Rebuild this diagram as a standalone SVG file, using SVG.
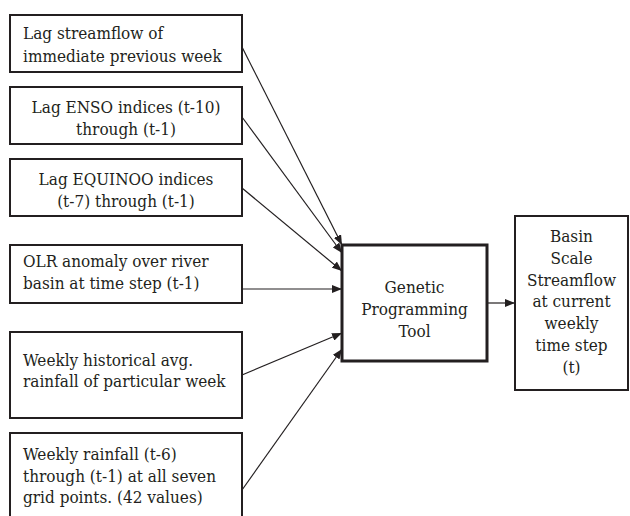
<svg xmlns="http://www.w3.org/2000/svg" width="630" height="516" viewBox="0 0 630 516">
  <style>
    .box { fill: #ffffff; stroke: #231f20; stroke-width: 2; }
    .core { fill: #ffffff; stroke: #231f20; stroke-width: 3; }
    .lbl { font-family: 'DejaVu Serif Condensed', 'DejaVu Serif', serif; font-stretch: condensed; font-size: 17px; fill: #231f20; }
    .mid { text-anchor: middle; }
    .edge { stroke: #231f20; stroke-width: 1.2; fill: none; marker-end: url(#head); }
  </style>
  <defs>
    <marker id="head" viewBox="0 0 10 8" refX="10" refY="4" markerWidth="10" markerHeight="8" markerUnits="userSpaceOnUse" orient="auto">
      <path d="M0,0 L10,4 L0,8 Z" fill="#231f20"/>
    </marker>
  </defs>
  <rect width="630" height="516" fill="#ffffff"/>

  <g id="connectors">
    <line class="edge" x1="242" y1="47" x2="342" y2="245"/>
    <line class="edge" x1="242" y1="117" x2="342" y2="253"/>
    <line class="edge" x1="242" y1="188" x2="342" y2="271"/>
    <line class="edge" x1="242" y1="289" x2="342" y2="289"/>
    <line class="edge" x1="242" y1="375" x2="342" y2="333"/>
    <line class="edge" x1="242" y1="490" x2="342" y2="349"/>
    <line class="edge" x1="487" y1="303" x2="515" y2="303"/>
  </g>

  <g id="lag-streamflow">
    <rect class="box" x="10" y="15" width="232" height="57"/>
    <text class="lbl" x="23" y="39">Lag streamflow of</text>
    <text class="lbl" x="23" y="62">immediate previous week</text>
  </g>

  <g id="lag-enso">
    <rect class="box" x="10" y="87" width="232" height="57"/>
    <text class="lbl mid" x="126" y="113">Lag ENSO indices (t-10)</text>
    <text class="lbl mid" x="126" y="135">through (t-1)</text>
  </g>

  <g id="lag-equinoo">
    <rect class="box" x="10" y="159" width="232" height="57"/>
    <text class="lbl mid" x="126" y="185">Lag EQUINOO indices</text>
    <text class="lbl mid" x="126" y="207">(t-7) through (t-1)</text>
  </g>

  <g id="olr-anomaly">
    <rect class="box" x="10" y="245" width="232" height="58"/>
    <text class="lbl" x="23" y="267">OLR anomaly over river</text>
    <text class="lbl" x="23" y="289">basin at time step (t-1)</text>
  </g>

  <g id="historical-rainfall">
    <rect class="box" x="10" y="332" width="232" height="86"/>
    <text class="lbl" x="23" y="366">Weekly historical avg.</text>
    <text class="lbl" x="23" y="387">rainfall of particular week</text>
  </g>

  <g id="weekly-rainfall">
    <rect class="box" x="10" y="433" width="232" height="100"/>
    <text class="lbl" x="23" y="460">Weekly rainfall (t-6)</text>
    <text class="lbl" x="23" y="482">through (t-1) at all seven</text>
    <text class="lbl" x="23" y="503">grid points. (42 values)</text>
  </g>

  <g id="gp-tool">
    <rect class="core" x="342" y="245" width="145" height="116"/>
    <text class="lbl mid" x="414.5" y="293">Genetic</text>
    <text class="lbl mid" x="414.5" y="315">Programming</text>
    <text class="lbl mid" x="414.5" y="337">Tool</text>
  </g>

  <g id="streamflow-output">
    <rect class="box" x="515" y="216" width="113" height="174"/>
    <text class="lbl mid" x="571.5" y="242">Basin</text>
    <text class="lbl mid" x="571.5" y="264">Scale</text>
    <text class="lbl mid" x="571.5" y="286">Streamflow</text>
    <text class="lbl mid" x="571.5" y="307">at current</text>
    <text class="lbl mid" x="571.5" y="329">weekly</text>
    <text class="lbl mid" x="571.5" y="351">time step</text>
    <text class="lbl mid" x="571.5" y="373">(t)</text>
  </g>
</svg>
